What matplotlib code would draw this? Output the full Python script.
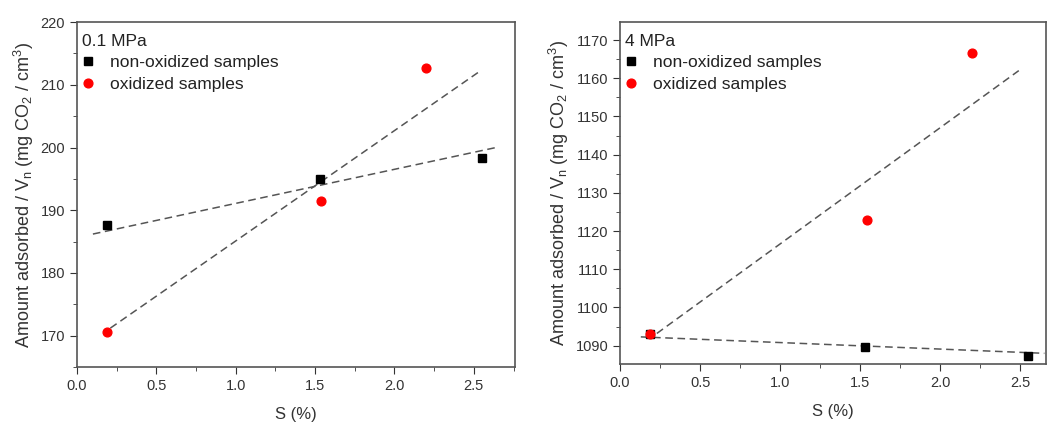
import numpy as np
import matplotlib.pyplot as plt
from matplotlib.ticker import MultipleLocator

plt.rcParams['font.family'] = ['Liberation Sans', 'DejaVu Sans']
plt.rcParams['mathtext.default'] = 'regular'
plt.rcParams['font.size'] = 10

# sulfur content (%) and adsorbed amount, 0.1 MPa
s_nonox = [0.19, 1.53, 2.55]
s_ox = [0.19, 1.54, 2.20]
low_nonox = [187.6, 195.0, 198.3]
low_ox = [170.5, 191.5, 212.7]
# 4 MPa
high_nonox = [1093.0, 1089.7, 1087.3]
high_ox = [1093.0, 1123.0, 1166.7]

# dashed trend lines (end points)
low_fit_nonox_x = [0.10, 2.64]
low_fit_nonox_y = [186.2, 200.0]
low_fit_ox_x = [0.21, 2.54]
low_fit_ox_y = [171.2, 212.2]
high_fit_nonox_x = [0.13, 2.65]
high_fit_nonox_y = [1092.3, 1088.0]
high_fit_ox_x = [0.23, 2.49]
high_fit_ox_y = [1093.2, 1162.0]

ylabel = 'Amount adsorbed / V$_n$ (mg CO$_2$ / cm$^3$)'

fig = plt.figure(figsize=(10.48, 4.25), dpi=100)
ax1 = fig.add_axes([0.0735, 0.1365, 0.418, 0.8115])
ax2 = fig.add_axes([0.5916, 0.1435, 0.4065, 0.8045])

panels = [
    (ax1, '0.1 MPa', low_nonox, low_ox, low_fit_nonox_x, low_fit_nonox_y,
     low_fit_ox_x, low_fit_ox_y, (165, 220), 2.76),
    (ax2, '4 MPa', high_nonox, high_ox, high_fit_nonox_x, high_fit_nonox_y,
     high_fit_ox_x, high_fit_ox_y, (1085.2, 1174.7), 2.66),
]

for (ax, title, y_non, y_ox, fnx, fny, fox, foy, ylim, xmax) in panels:
    ax.plot(fnx, fny, ls=(0, (5, 3)), color='#555555', lw=1.1)
    ax.plot(fox, foy, ls=(0, (5, 3)), color='#555555', lw=1.1)
    ax.plot(s_nonox, y_non, 's', color='black', ms=6.3, label='non-oxidized samples')
    ax.plot(s_ox, y_ox, 'o', color='#ff0000', ms=6.3, label='oxidized samples')
    ax.set_xlim(0, xmax)
    ax.set_ylim(*ylim)
    ax.xaxis.set_major_locator(MultipleLocator(0.5))
    ax.xaxis.set_minor_locator(MultipleLocator(0.25))
    ax.yaxis.set_major_locator(MultipleLocator(10))
    ax.yaxis.set_minor_locator(MultipleLocator(5))
    ax.xaxis.set_major_formatter(plt.FormatStrFormatter('%.1f'))
    ax.yaxis.set_major_formatter(plt.FormatStrFormatter('%d'))
    ax.tick_params(which='both', direction='out', top=False, right=False,
                   color='#333333', labelcolor='#333333')
    ax.tick_params(which='major', length=5, labelsize=10.5)
    ax.tick_params(which='minor', length=3)
    for sp in ax.spines.values():
        sp.set_color('#555555')
        sp.set_linewidth(1.2)
    ax.set_xlabel('S (%)', fontsize=12, color='#333333', labelpad=10)
    ax.set_ylabel(ylabel, fontsize=13, color='#333333', labelpad=3)
    leg = ax.legend(loc='upper left', bbox_to_anchor=(-0.005, 0.985), title=title,
                    frameon=False, numpoints=1,
                    fontsize=12.5, title_fontsize=12.5, handlelength=0.7,
                    handletextpad=0.9, borderaxespad=0.1, labelspacing=0.35,
                    alignment='left', borderpad=0.3)
    for t in leg.get_texts():
        t.set_color('#222222')
    leg.get_title().set_color('#222222')

fig.savefig('out.png', dpi=100)
